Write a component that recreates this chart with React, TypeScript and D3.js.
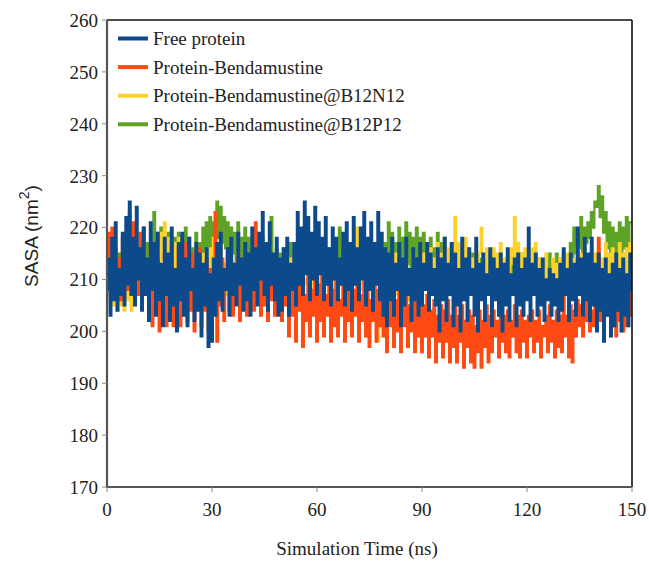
import React from "react";
import * as d3 from "d3";

const STEP = 0.5; // ns between samples
const xTicks = [0, 30, 60, 90, 120, 150];
const yTicks = [170, 180, 190, 200, 210, 220, 230, 240, 250, 260];
const seriesNames = [
  "Free protein",
  "Protein-Bendamustine",
  "Protein-Bendamustine@B12N12",
  "Protein-Bendamustine@B12P12",
];
const seriesColors = ["#0c4a8c", "#ff4a14", "#fcd22a", "#5ea226"];

const freeProtein = [
  208, 214, 203, 218, 206, 221, 204, 212, 207, 219, 205, 222, 209, 225, 207, 218, 205, 224, 210, 216,
  204, 220, 207, 214, 202, 221, 208, 217, 203, 219, 206, 213, 201, 218, 207, 215, 202, 220, 205, 212,
  200, 217, 206, 219, 203, 214, 201, 218, 208, 212, 202, 217, 204, 215, 199, 213, 205, 216, 197, 211,
  198, 214, 203, 217, 206, 219, 204, 212, 208, 216, 203, 218, 207, 213, 205, 219, 209, 214, 204, 217,
  206, 215, 203, 220, 208, 216, 205, 219, 210, 223, 207, 217, 204, 221, 209, 215, 206, 218, 203, 214,
  204, 216, 207, 218, 203, 213, 208, 217, 205, 223, 209, 220, 207, 225, 211, 222, 206, 219, 210, 224,
  207, 221, 211, 218, 206, 222, 209, 216, 205, 220, 210, 218, 206, 214, 209, 219, 205, 221, 208, 217,
  204, 222, 209, 216, 206, 220, 210, 223, 205, 218, 208, 221, 204, 217, 209, 223, 206, 219, 203, 216,
  201, 215, 206, 218, 203, 213, 208, 217, 201, 214, 205, 218, 207, 212, 202, 216, 206, 214, 203, 217,
  205, 213, 208, 217, 204, 215, 207, 212, 205, 216, 200, 214, 206, 218, 202, 213, 207, 217, 201, 215,
  205, 212, 200, 218, 206, 214, 202, 216, 207, 212, 203, 218, 200, 213, 206, 215, 202, 211, 207, 216,
  201, 214, 206, 212, 203, 215, 200, 213, 205, 216, 202, 211, 207, 214, 201, 215, 205, 212, 203, 214,
  206, 220, 202, 213, 207, 215, 203, 212, 205, 214, 202, 210, 206, 212, 203, 211, 205, 210, 202, 213,
  204, 216, 207, 212, 202, 215, 206, 213, 203, 220, 207, 214, 203, 218, 206, 215, 202, 218, 205, 213,
  200, 215, 204, 212, 198, 214, 203, 211, 199, 213, 201, 215, 204, 212, 200, 214, 203, 211, 201, 215,
  208,
];

const proteinBendamustine = [
  212, 219, 210, 220, 208, 216, 207, 214, 206, 218, 209, 215, 208, 223, 207, 221, 209, 214, 207, 219,
  209, 220, 207, 213, 203, 216, 201, 212, 205, 214, 200, 211, 204, 215, 201, 210, 206, 217, 201, 212,
  205, 216, 201, 213, 207, 217, 202, 211, 204, 215, 200, 212, 205, 216, 201, 210, 204, 214, 200, 212,
  203, 212, 223, 198, 210, 205, 214, 202, 209, 215, 204, 211, 203, 213, 206, 215, 202, 210, 205, 214,
  203, 211, 206, 215, 204, 221, 206, 212, 203, 210, 205, 214, 202, 209, 206, 213, 203, 211, 204, 212,
  202, 210, 205, 212, 199, 208, 203, 211, 198, 209, 204, 210, 197, 207, 202, 211, 199, 208, 203, 210,
  198, 209, 202, 211, 199, 207, 203, 210, 198, 208, 201, 211, 199, 206, 203, 210, 198, 209, 202, 211,
  199, 208, 203, 210, 198, 207, 202, 211, 199, 209, 197, 206, 202, 210, 198, 208, 201, 209, 199, 207,
  196, 208, 201, 210, 197, 206, 200, 209, 196, 207, 201, 209, 197, 205, 200, 210, 196, 207, 199, 208,
  196, 205, 199, 207, 195, 204, 199, 206, 194, 203, 198, 205, 195, 204, 198, 206, 194, 203, 197, 205,
  194, 203, 198, 205, 193, 202, 197, 204, 194, 203, 193, 201, 196, 204, 193, 202, 197, 205, 194, 203,
  196, 204, 199, 202, 195, 205, 198, 203, 196, 204, 195, 202, 199, 205, 196, 203, 195, 204, 198, 202,
  195, 203, 199, 204, 196, 202, 198, 204, 195, 201, 199, 203, 196, 205, 198, 202, 195, 204, 197, 203,
  196, 208, 199, 203, 195, 205, 194, 204, 199, 206, 201, 205, 199, 207, 202, 206, 200, 204, 201, 206,
  210, 218, 202, 206, 200, 205, 203, 207, 211, 201, 206, 199, 205, 202, 207, 200, 206, 201, 208, 203,
  209,
];

const b12n12 = [
  210, 215, 206, 213, 205, 211, 204, 209, 205, 212, 204, 208, 206, 210, 204, 211, 205, 208, 207, 212,
  206, 214, 208, 212, 207, 215, 209, 213, 210, 216, 212, 219, 214, 221, 211, 218, 209, 215, 212, 217,
  208, 218, 210, 214, 203, 213, 209, 216, 207, 212, 210, 217, 208, 214, 206, 215, 209, 213, 207, 216,
  209, 218, 211, 215, 208, 217, 210, 213, 207, 214, 209, 212, 204, 213, 207, 215, 208, 211, 206, 214,
  207, 213, 209, 215, 206, 212, 208, 214, 205, 211, 208, 215, 206, 213, 209, 212, 207, 214, 205, 212,
  208, 213, 206, 211, 209, 214, 207, 212, 205, 211, 208, 213, 206, 210, 209, 212, 207, 211, 208, 213,
  206, 212, 208, 211, 207, 213, 209, 212, 206, 211, 208, 213, 207, 212, 209, 211, 206, 213, 208, 212,
  209, 218, 211, 220, 210, 216, 208, 213, 206, 212, 208, 214, 207, 211, 205, 198, 207, 212, 206, 213,
  208, 214, 206, 212, 209, 215, 207, 213, 205, 212, 208, 214, 206, 211, 209, 215, 207, 213, 208, 214,
  207, 215, 209, 213, 208, 216, 210, 214, 209, 217, 212, 215, 210, 218, 213, 216, 211, 217, 213, 222,
  212, 217, 210, 215, 212, 218, 211, 216, 209, 214, 211, 217, 210, 215, 220, 213, 210, 216, 209, 214,
  211, 216, 209, 215, 212, 217, 210, 214, 208, 215, 211, 216, 213, 222, 212, 217, 209, 215, 211, 216,
  208, 214, 210, 216, 209, 217, 211, 214, 208, 213, 210, 215, 207, 212, 209, 214, 208, 213, 210, 214,
  208, 213, 210, 215, 209, 212, 211, 214, 208, 216, 210, 215, 209, 217, 211, 214, 209, 216, 210, 215,
  208, 216, 211, 214, 209, 217, 210, 215, 208, 216, 211, 214, 209, 217, 212, 215, 210, 216, 211, 217,
  213,
];

const b12p12 = [
  210, 214, 207, 213, 206, 212, 208, 215, 207, 211, 206, 213, 208, 214, 206, 212, 209, 215, 207, 213,
  209, 216, 210, 217, 208, 215, 211, 223, 213, 219, 212, 220, 214, 218, 211, 219, 213, 217, 210, 218,
  212, 219, 211, 217, 213, 220, 211, 218, 212, 216, 210, 219, 213, 217, 211, 220, 214, 221, 216, 222,
  215, 221, 219, 225, 218, 224, 217, 222, 216, 221, 214, 220, 215, 219, 213, 221, 214, 218, 213, 220,
  212, 218, 210, 216, 213, 217, 211, 215, 212, 218, 210, 216, 211, 217, 222, 214, 210, 216, 209, 215,
  211, 216, 209, 214, 212, 217, 210, 215, 208, 214, 211, 216, 209, 215, 212, 217, 210, 214, 209, 216,
  211, 215, 209, 217, 210, 214, 212, 216, 209, 215, 211, 214, 210, 220, 213, 216, 210, 215, 211, 217,
  209, 215, 212, 216, 210, 214, 211, 217, 209, 215, 212, 216, 210, 214, 211, 217, 209, 215, 212, 217,
  213, 221, 214, 219, 212, 217, 213, 220, 212, 218, 214, 221, 213, 219, 212, 218, 214, 220, 212, 218,
  213, 219, 212, 217, 214, 218, 212, 216, 213, 219, 211, 217, 213, 218, 210, 215, 212, 216, 210, 214,
  209, 214, 211, 215, 210, 213, 209, 214, 211, 215, 209, 213, 210, 214, 208, 213, 211, 215, 209, 214,
  210, 213, 208, 214, 211, 215, 209, 213, 210, 214, 208, 215, 211, 213, 209, 214, 210, 215, 208, 213,
  210, 214, 209, 213, 211, 215, 209, 214, 210, 213, 208, 214, 211, 215, 209, 213, 210, 215, 209, 214,
  211, 215, 210, 214, 213, 217, 214, 220, 215, 219, 216, 222, 215, 220, 217, 221, 218, 223, 220, 225,
  224, 228, 222, 226, 219, 223, 216, 221, 214, 220, 213, 219, 215, 221, 214, 220, 216, 222, 215, 221,
  221,
];

const W = 649;
const H = 561;
const M = { left: 107, right: 632, top: 20, bottom: 487 };

export default function App() {
  const x = d3.scaleLinear().domain([0, 150]).range([M.left, M.right]);
  const y = d3.scaleLinear().domain([170, 260]).range([M.bottom, M.top]);
  const line = d3
    .line<number>()
    .x((_, i) => x(i * STEP))
    .y((d) => y(d))
    .curve(d3.curveStep);

  const allSeries = [freeProtein, proteinBendamustine, b12n12, b12p12];
  // draw order: green, yellow, red, blue (blue on top)
  const drawOrder = [3, 2, 1, 0];

  return (
    <svg
      width={W}
      height={H}
      style={{ position: "absolute", left: 0, top: 0, background: "#fff" }}
    >
      <rect x={0} y={0} width={W} height={H} fill="#fff" />
      <defs>
        <clipPath id="plotClip">
          <rect x={M.left} y={M.top} width={M.right - M.left} height={M.bottom - M.top} />
        </clipPath>
      </defs>
      <g clipPath="url(#plotClip)">
        {drawOrder.map((si) => (
          <path
            key={si}
            d={line(allSeries[si]) || ""}
            fill="none"
            stroke={seriesColors[si]}
            strokeWidth={2.2}
            strokeLinejoin="miter"
          />
        ))}
      </g>
      {/* frame */}
      <line x1={M.left} x2={M.right} y1={M.top} y2={M.top} stroke="#111" strokeWidth={1.4} />
      <line x1={M.right} x2={M.right} y1={M.top} y2={M.bottom} stroke="#111" strokeWidth={1.6} />
      <line x1={M.left} x2={M.left} y1={M.top} y2={M.bottom + 1} stroke="#555" strokeWidth={2.2} />
      <line x1={M.left - 1} x2={M.right} y1={M.bottom} y2={M.bottom} stroke="#555" strokeWidth={2.2} />
      {/* y ticks */}
      {yTicks.map((t) => (
        <g key={"y" + t}>
          <line x1={M.left - 5} x2={M.left} y1={y(t)} y2={y(t)} stroke="#888" strokeWidth={1} />
          <text
            x={M.left - 9}
            y={y(t)}
            dy="0.36em"
            textAnchor="end"
            fontFamily="'Liberation Serif', 'Times New Roman', serif"
            fontSize={19}
            fill="#222"
          >
            {t}
          </text>
        </g>
      ))}
      {/* x ticks */}
      {xTicks.map((t) => (
        <g key={"x" + t}>
          <line x1={x(t)} x2={x(t)} y1={M.bottom} y2={M.bottom + 5} stroke="#888" strokeWidth={1} />
          <text
            x={x(t)}
            y={M.bottom + 29}
            textAnchor="middle"
            fontFamily="'Liberation Serif', 'Times New Roman', serif"
            fontSize={19}
            fill="#222"
          >
            {t}
          </text>
        </g>
      ))}
      {/* axis titles */}
      <text
        x={357}
        y={555}
        textAnchor="middle"
        fontFamily="'Liberation Serif', 'Times New Roman', serif"
        fontSize={19}
        fill="#222"
      >
        Simulation Time (ns)
      </text>
      <text
        transform={`translate(38, 236) rotate(-90)`}
        textAnchor="middle"
        fontFamily="'Liberation Sans', Arial, sans-serif"
        fontSize={19}
        fill="#222"
      >
        SASA (nm
        <tspan dy={-9} fontSize={14}>2</tspan>
        <tspan dy={9}>)</tspan>
      </text>
      {/* legend */}
      {seriesNames.map((name, i) => {
        const cy = 38.5 + i * 28.6;
        return (
          <g key={name}>
            <line x1={118} x2={148} y1={cy} y2={cy} stroke={seriesColors[i]} strokeWidth={4} />
            <text
              x={153}
              y={cy + 6.5}
              fontFamily="'Liberation Serif', 'Times New Roman', serif"
              fontSize={19}
              fill="#222"
            >
              {name}
            </text>
          </g>
        );
      })}
    </svg>
  );
}
